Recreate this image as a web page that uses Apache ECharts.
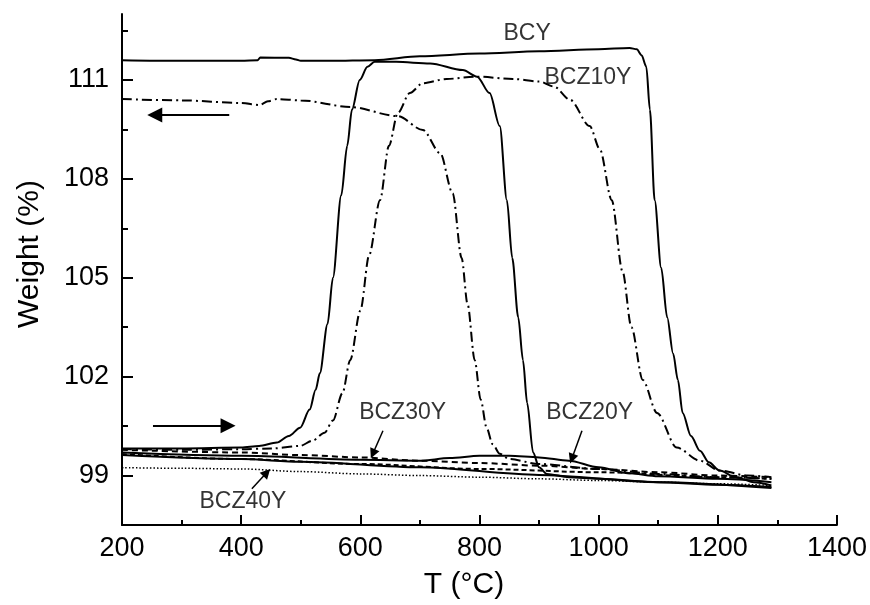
<!DOCTYPE html>
<html>
<head>
<meta charset="utf-8">
<script src="https://cdn.jsdelivr.net/npm/echarts@6/dist/echarts.min.js"></script>
<style>
  html, body { margin: 0; padding: 0; background: #fff; }
  #chart { width: 870px; height: 605px; }
</style>
</head>
<body>
<div id="chart"></div>
<script>
// BCY, upper solid curve (T in °C, weight in %)
var bcyT = [200, 300, 400, 428, 432, 480, 492, 500, 550, 624, 700, 800, 900, 1000, 1052, 1064, 1072, 1080, 1086, 1094, 1105, 1115, 1125, 1133, 1141, 1155, 1170, 1185, 1203, 1230, 1260, 1290];
var bcyW = [111.6, 111.58, 111.58, 111.6, 111.68, 111.67, 111.62, 111.58, 111.58, 111.6, 111.72, 111.8, 111.87, 111.93, 111.97, 111.93, 111.75, 111.4, 110.1, 107.35, 105.3, 103.8, 102.7, 101.9, 100.9, 100.2, 99.75, 99.4, 99.15, 98.95, 98.8, 98.7];

// BCY, solid curve rising at ~550 and dropping at ~850
var bcy2T = [200, 300, 400, 430, 460, 480, 499, 515, 525, 532, 545, 554, 568, 578, 586, 599, 612, 624, 660, 717, 772, 796, 817, 834, 846, 855, 865, 873, 880, 890, 900, 913, 950, 1000, 1100, 1200, 1290];
var bcy2W = [99.82, 99.82, 99.85, 99.9, 100.0, 100.2, 100.45, 101.0, 101.6, 102.1, 103.6, 105.0, 107.5, 109.0, 110.1, 111.0, 111.4, 111.55, 111.55, 111.5, 111.3, 111.1, 110.6, 109.6, 107.35, 105.6, 103.8, 102.5, 101.2, 99.7, 99.25, 99.05, 98.95, 98.9, 98.8, 98.72, 98.65];

// BCZ10Y, dash-dot curve starting high
var z10aT = [200, 300, 400, 431, 445, 460, 500, 583, 663, 705, 734, 755, 770, 780, 792, 802, 812, 822, 834, 850, 900, 1000, 1100, 1200, 1290];
var z10aW = [110.42, 110.38, 110.3, 110.24, 110.35, 110.42, 110.38, 110.18, 109.9, 109.48, 108.78, 107.56, 105.6, 104.2, 102.5, 101.3, 100.45, 99.95, 99.66, 99.5, 99.35, 99.2, 99.05, 98.95, 98.9];

// BCZ10Y, dash-dot curve rising at ~600
var z10bT = [200, 300, 400, 450, 499, 520, 540, 554, 570, 583, 600, 615, 633, 648, 663, 683, 705, 745, 796, 856, 901, 925, 952, 985, 1002, 1022, 1040, 1055, 1074, 1098, 1131, 1170, 1203, 1250, 1290];
var z10bW = [99.8, 99.78, 99.8, 99.82, 99.9, 100.06, 100.3, 100.67, 101.5, 102.5, 104.0, 105.7, 107.35, 109.0, 110.0, 110.6, 110.9, 111.03, 111.1, 111.03, 110.95, 110.8, 110.4, 109.6, 108.9, 107.35, 105.2, 103.5, 101.9, 100.9, 99.85, 99.45, 99.15, 99.0, 98.95];

// BCZ20Y, solid low curves
var z20aT = [200, 400, 600, 700, 750, 800, 850, 900, 950, 1000, 1050, 1100, 1200, 1290];
var z20aW = [99.7, 99.6, 99.48, 99.45, 99.53, 99.6, 99.6, 99.55, 99.45, 99.25, 99.07, 98.98, 98.9, 98.8];
var z20bT = [200, 400, 500, 700, 900, 1100, 1290];
var z20bW = [99.62, 99.5, 99.42, 99.25, 99.02, 98.8, 98.62];

// BCZ30Y, dashed curves
var z30aT = [200, 400, 500, 600, 700, 800, 900, 1000, 1100, 1200, 1290];
var z30aW = [99.78, 99.7, 99.62, 99.55, 99.45, 99.38, 99.3, 99.2, 99.1, 99.0, 98.95];
var z30bT = [200, 400, 600, 800, 1000, 1200, 1290];
var z30bW = [99.65, 99.5, 99.35, 99.2, 99.1, 98.95, 98.9];

// BCZ40Y, dotted curve
var z40T = [200, 300, 400, 500, 600, 700, 800, 900, 1000, 1100, 1200, 1290];
var z40W = [99.24, 99.22, 99.2, 99.12, 99.05, 99.0, 98.95, 98.9, 98.85, 98.8, 98.75, 98.7];

// curve labels
var labelNames = ['BCY', 'BCZ10Y', 'BCZ30Y', 'BCZ20Y', 'BCZ40Y'];
var labelT = [880, 982, 671, 985, 403];
var labelW = [112.4, 111.06, 100.91, 100.91, 98.2];

// arrows: [tailT, tailW, headT, headW]
var bigArrows = [[380, 109.94, 255, 109.94], [252, 100.51, 378, 100.51]];
var smallArrows = [[638, 100.36, 621, 99.66], [972, 100.36, 955, 99.51], [418, 98.6, 443, 99.09]];

var yMajor = [99, 102, 105, 108, 111];
var yMinor = [100.5, 103.5, 106.5, 109.5, 112.5];

var font = 'Liberation Sans, Arial, sans-serif';

function pairs(t, w) {
    var out = [];
    for (var i = 0; i < t.length; i++) out.push([t[i], w[i]]);
    return out;
}

function curve(t, w, type, width) {
    return {
        type: 'line',
        data: pairs(t, w),
        showSymbol: false,
        smooth: 0.3,
        smoothMonotone: 'x',
        silent: true,
        lineStyle: { color: '#000', width: width || 2, type: type || 'solid' },
        z: 3
    };
}

function arrows(list, width, size) {
    return {
        type: 'lines',
        coordinateSystem: 'cartesian2d',
        silent: true,
        symbol: ['none', 'triangle'],
        symbolSize: size,
        lineStyle: { color: '#000', width: width, opacity: 1 },
        itemStyle: { color: '#000' },
        data: list.map(function (a) { return { coords: [[a[0], a[1]], [a[2], a[3]]] }; }),
        z: 4
    };
}

var myChart = echarts.init(document.getElementById('chart'));

var dashDot = [10, 4, 2, 4];

var option = {
    animation: false,
    backgroundColor: '#fff',
    grid: { left: 122, right: 33, top: 14, bottom: 80 },
    xAxis: {
        type: 'value',
        min: 200,
        max: 1400,
        interval: 200,
        axisLine: { lineStyle: { color: '#000', width: 2 } },
        axisTick: { inside: true, length: 10, lineStyle: { color: '#000', width: 2 } },
        minorTick: { show: true, splitNumber: 2, length: 5, lineStyle: { color: '#000', width: 2 } },
        axisLabel: {
            color: '#000', fontSize: 27, fontFamily: font, margin: 10,
            formatter: function (v) { return String(v); }
        },
        splitLine: { show: false }
    },
    yAxis: [{
        type: 'value',
        min: 97.5,
        max: 113,
        axisLine: { show: true, lineStyle: { color: '#000', width: 2 } },
        axisTick: { show: true, inside: true, length: 11, customValues: yMajor, lineStyle: { color: '#000', width: 2 } },
        axisLabel: { color: '#000', fontSize: 27, fontFamily: font, margin: 13, customValues: yMajor },
        splitLine: { show: false }
    }, {
        type: 'value',
        position: 'left',
        min: 97.5,
        max: 113,
        axisLine: { show: false },
        axisTick: { show: true, inside: true, length: 6, customValues: yMinor, lineStyle: { color: '#000', width: 2 } },
        axisLabel: { show: false },
        splitLine: { show: false }
    }],
    graphic: [{
        type: 'text',
        x: 30, y: 254,
        rotation: Math.PI / 2,
        style: { text: 'Weight (%)', fill: '#000', fontSize: 30, fontFamily: font, align: 'center', verticalAlign: 'middle' }
    }, {
        type: 'text',
        x: 464, y: 585,
        style: { text: 'T (°C)', fill: '#000', fontSize: 30, fontFamily: font, align: 'center', verticalAlign: 'middle' }
    }],
    series: [
        curve(z40T, z40W, [1.5, 2], 1.5),
        curve(z30bT, z30bW, [5, 3], 2),
        curve(z30aT, z30aW, [6, 4], 2),
        curve(z20bT, z20bW, 'solid', 2),
        curve(z20aT, z20aW, 'solid', 2),
        curve(z10aT, z10aW, dashDot, 2),
        curve(z10bT, z10bW, dashDot, 2),
        curve(bcy2T, bcy2W, 'solid', 2),
        curve(bcyT, bcyW, 'solid', 2),
        arrows(bigArrows, 2, [16, 15]),
        arrows(smallArrows, 1.5, [8, 10]),
        {
            type: 'scatter',
            silent: true,
            symbolSize: 0,
            data: labelNames.map(function (n, i) { return { name: n, value: [labelT[i], labelW[i]] }; }),
            label: {
                show: true,
                position: 'inside',
                formatter: '{b}',
                color: '#000',
                fontSize: 23,
                fontFamily: font
            },
            z: 5
        }
    ]
};

myChart.setOption(option);
</script>
</body>
</html>
